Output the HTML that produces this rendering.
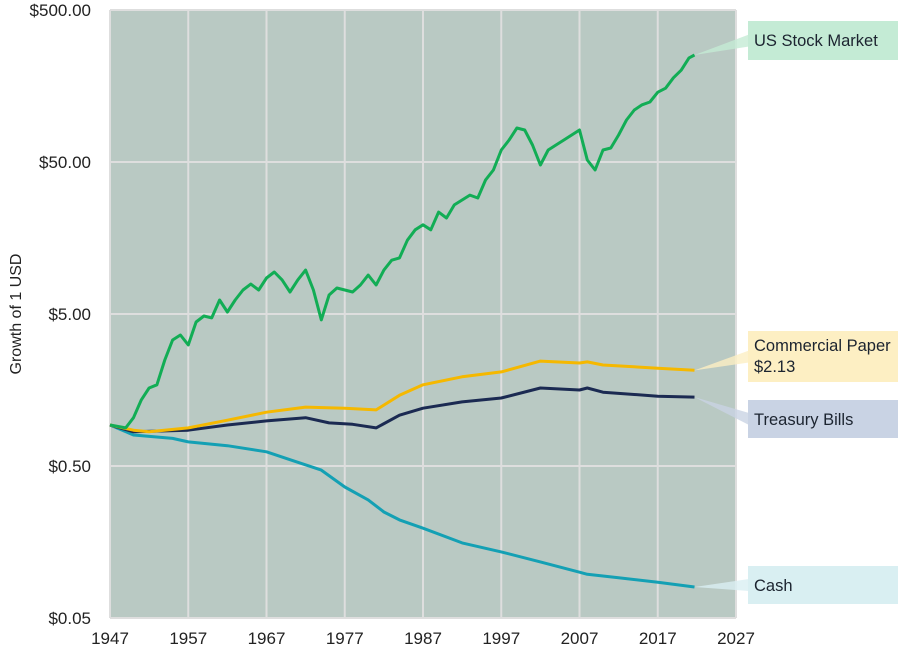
<!DOCTYPE html>
<html><head><meta charset="utf-8"><style>
body{margin:0;background:#fff;font-family:"Liberation Sans",sans-serif;}
svg text{font-family:"Liberation Sans",sans-serif;}
</style></head><body>
<svg id="chart" width="902" height="656" xmlns="http://www.w3.org/2000/svg">
<rect x="110" y="10" width="626" height="608" fill="#b9c9c3"/>
<g id="grid"></g><g id="axes"></g><g id="callouts"></g><g id="series"></g>
<text transform="translate(21,314) rotate(-90)" text-anchor="middle" font-size="16" fill="#222">Growth of 1 USD</text>
</svg>
<script>
const xTicks=[1947,1957,1967,1977,1987,1997,2007,2017,2027];
const yTicks=[0.05,0.5,5,50,500];
const yTickLabels=["$0.05","$0.50","$5.00","$50.00","$500.00"];
const stockYears=[1947,1949,1950,1951,1952,1953,1954,1955,1956,1957,1958,1959,1960,1961,1962,1963,1964,1965,1966,1967,1968,1969,1970,1971,1972,1973,1974,1975,1976,1977,1978,1979,1980,1981,1982,1983,1984,1985,1986,1987,1988,1989,1990,1991,1992,1993,1994,1995,1996,1997,1998,1999,2000,2001,2002,2003,2004,2005,2006,2007,2008,2009,2010,2011,2012,2013,2014,2015,2016,2017,2018,2019,2020,2021,2021.7];
const stockValues=[0.93,0.89,1.04,1.36,1.63,1.71,2.49,3.37,3.64,3.13,4.43,4.85,4.71,6.18,5.15,6.18,7.19,7.87,7.19,8.63,9.44,8.38,6.98,8.38,9.73,7.19,4.57,6.67,7.41,7.19,6.98,7.76,9.02,7.76,9.73,11.3,11.7,15.3,17.9,19.3,17.9,23.4,21.4,26.1,28.1,30.3,29.0,38.1,44.3,60,69.8,83.7,81.2,64.7,47.8,60,64.7,69.8,75.3,81.2,51.5,44.3,60,61.8,75.3,94.4,110,119,124,144,153,179,201,242,253];
const cpYears=[1947,1950,1952,1957,1962,1967,1972,1977,1981,1984,1987,1992,1997,2002,2007,2008,2010,2017,2021.7];
const cpValues=[0.93,0.86,0.84,0.89,1.0,1.13,1.22,1.20,1.17,1.46,1.71,1.93,2.08,2.45,2.38,2.42,2.31,2.20,2.13];
const tbYears=[1947,1950,1957,1962,1967,1972,1975,1978,1981,1984,1987,1992,1997,2002,2007,2008,2010,2017,2021.7];
const tbValues=[0.93,0.84,0.86,0.93,0.99,1.04,0.96,0.94,0.89,1.08,1.20,1.32,1.40,1.63,1.58,1.63,1.53,1.44,1.42];
const cashYears=[1947,1950,1955,1957,1962,1967,1970,1974,1977,1980,1982,1984,1987,1992,1997,2002,2007,2008,2012,2017,2021.7];
const cashValues=[0.93,0.80,0.76,0.72,0.68,0.62,0.55,0.47,0.364,0.299,0.249,0.221,0.195,0.156,0.136,0.117,0.100,0.097,0.092,0.086,0.080];

const NS="http://www.w3.org/2000/svg";
const x=yr=>110+(yr-1947)*626/80;
const y=v=>10+(Math.log10(500)-Math.log10(v))*152;
function mk(tag,attrs,parent){const e=document.createElementNS(NS,tag);for(const k in attrs)e.setAttribute(k,attrs[k]);parent.appendChild(e);return e;}
const grid=document.getElementById('grid'),axes=document.getElementById('axes'),ser=document.getElementById('series'),call=document.getElementById('callouts');
xTicks.forEach(t=>{
 const l=mk('line',{x1:x(t),x2:x(t),y1:10,y2:618,stroke:'#dedede','stroke-width':2},grid);
 
 
 const tx=mk('text',{x:x(t),y:644,'text-anchor':'middle','font-size':17,fill:'#222'},axes);tx.textContent=t;
 
 
});
yTicks.forEach((t,i)=>{
 const l=mk('line',{x1:110,x2:736,y1:y(t),y2:y(t),stroke:'#dedede','stroke-width':2},grid);
 
 
 const tx=mk('text',{x:91,y:y(t)+6,'text-anchor':'end','font-size':17,fill:'#222'},axes);tx.textContent=yTickLabels[i];
 
 
});
const series=[
 {n:'cash',ys:cashYears,vs:cashValues,c:'#14a0b4',box:'#d9eff2',by:566,bh:38,lab:['Cash']},
 {n:'treasury-bills',ys:tbYears,vs:tbValues,c:'#1b2a52',box:'#c9d3e4',by:400,bh:38,lab:['Treasury Bills']},
 {n:'commercial-paper',ys:cpYears,vs:cpValues,c:'#f5b800',box:'#fdefc3',by:331,bh:51,lab:['Commercial Paper','$2.13']},
 {n:'us-stock-market',ys:stockYears,vs:stockValues,c:'#12ad55',box:'#c4ebd5',by:21,bh:39,lab:['US Stock Market']}
];
series.forEach(s=>{
 const d=s.ys.map((yr,i)=>(i?'L':'M')+x(yr).toFixed(1)+','+y(s.vs[i]).toFixed(1)).join('');
 const p=mk('path',{d:d,fill:'none',stroke:s.c,'stroke-width':3,'stroke-linejoin':'round'},ser);
 
 
 const ex=x(s.ys[s.ys.length-1]),ey=y(s.vs[s.vs.length-1]);
 const midY=s.by+s.bh/2;
 const w=mk('polygon',{points:`${ex},${ey} 749,${midY-6} 749,${midY+6}`,fill:s.box,opacity:0.8},call);
 
 
 const r=mk('rect',{x:748,y:s.by,width:150,height:s.bh,fill:s.box},call);
 
 
 s.lab.forEach((t,i)=>{
  const tx=mk('text',{x:754,y:s.by+(s.lab.length>1?20+i*21:25),'font-size':16.5,fill:'#1c2430'},call);tx.textContent=t;
  
  
 });
});
</script>
</body></html>
